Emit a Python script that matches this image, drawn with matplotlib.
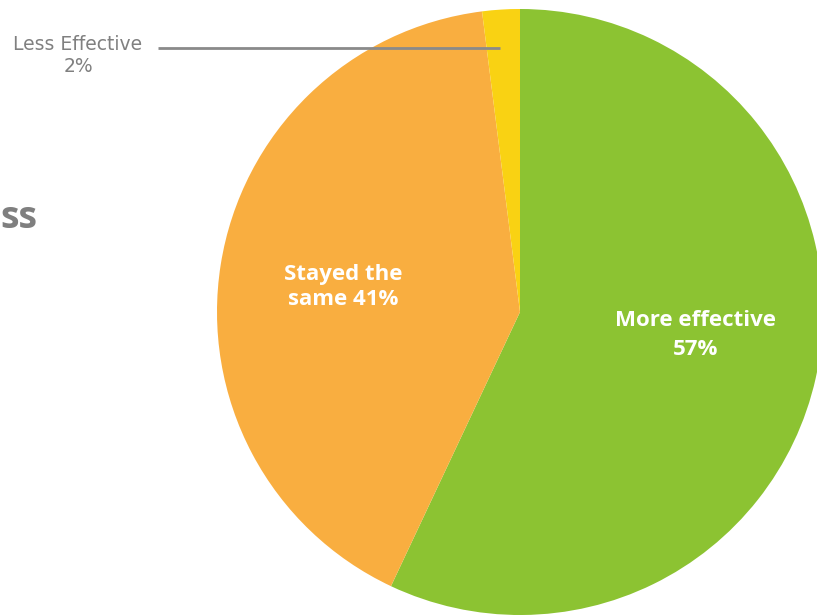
import matplotlib.pyplot as plt

# data
labels = ['More effective', 'Stayed the same', 'Less Effective']
shares = [57, 41, 2]
colors = ['#8cc332', '#f9ae40', '#f9d213']

fig = plt.figure(figsize=(8.17, 6.16), dpi=100)
ax = fig.add_axes([0, 0, 1, 1])

# pie sits right of centre, partly cut off on the right edge
ax.pie(shares, colors=colors, startangle=90, counterclock=False,
       center=(520, 304), radius=303,
       wedgeprops=dict(linewidth=0))
ax.set_xlim(0, 817)
ax.set_ylim(0, 616)
ax.set_aspect('equal')
ax.axis('off')

# labels inside the slices
ax.text(696, 281, f"{labels[0]}\n{shares[0]}%", color='white', fontsize=16,
        fontweight='bold', family='Open Sans', ha='center', va='center',
        linespacing=1.45)
ax.text(343, 329, f"Stayed the\nsame {shares[1]}%", color='white', fontsize=16,
        fontweight='bold', family='Open Sans', ha='center', va='center',
        linespacing=1.3)

# small slice label with leader line
ax.plot([158, 500], [568, 568], color='#8a8a8a', lw=2, solid_capstyle='butt')
ax.text(78, 561, f"{labels[2]}\n{shares[2]}%", color='#808080', fontsize=13.5,
        ha='center', va='center', linespacing=1.2)

# cut-off title fragment on the left
ax.text(0, 398, "ss", color='#7f7f7f', fontsize=27, fontweight='bold',
        family='Open Sans', ha='left', va='center')

fig.savefig('out.png', dpi=100)
